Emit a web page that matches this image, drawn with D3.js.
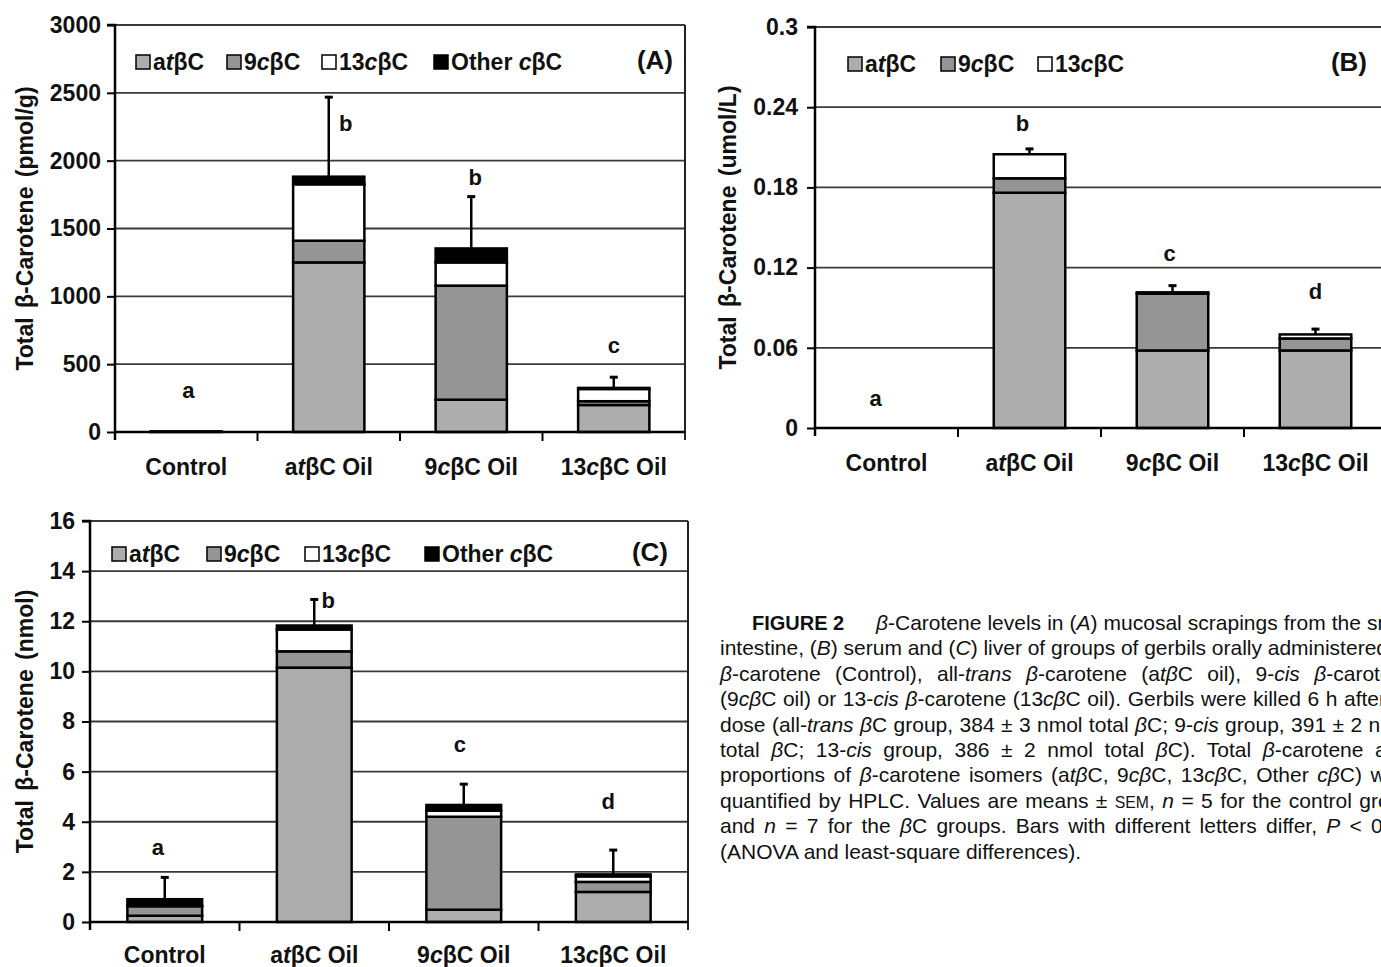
<!DOCTYPE html>
<html><head><meta charset="utf-8">
<script src="https://cdn.jsdelivr.net/npm/d3@7"></script>
<style>
body{margin:0;background:#fff}
svg{display:block}
text{font-family:"Liberation Sans",Arial,Helvetica,sans-serif}
</style>
</head><body>
<svg id="chart" width="1381" height="967"></svg>
<script>
// ---------------- DATA ----------------
const categories = ["Control", "atβC Oil", "9cβC Oil", "13cβC Oil"];
const isomers4 = ["atβC", "9cβC", "13cβC", "Other cβC"];
const isomers3 = ["atβC", "9cβC", "13cβC"];

// (A) mucosal scrapings, pmol/g
const A_at    = [5, 1250, 238, 199];
const A_9c    = [0, 160, 841, 28];
const A_13c   = [0, 416, 171, 90];
const A_other = [0, 56, 103, 8];
const A_sem   = [0, 586, 382, 79];
const A_letters = ["a", "b", "b", "c"];
const A_ticks = [0, 500, 1000, 1500, 2000, 2500, 3000];

// (B) serum, umol/L
const B_at  = [0, 0.176, 0.058, 0.058];
const B_9c  = [0, 0.0108, 0.0425, 0.009];
const B_13c = [0, 0.018, 0.001, 0.003];
const B_sem = [0, 0.004, 0.005, 0.004];
const B_letters = ["a", "b", "c", "d"];
const B_ticks = [0, 0.06, 0.12, 0.18, 0.24, 0.3];

// (C) liver, nmol
const C_at    = [0.25, 10.15, 0.49, 1.2];
const C_9c    = [0.38, 0.65, 3.71, 0.4];
const C_13c   = [0.02, 0.87, 0.24, 0.22];
const C_other = [0.26, 0.16, 0.23, 0.08];
const C_sem   = [0.87, 1.04, 0.83, 0.97];
const C_letters = ["a", "b", "c", "d"];
const C_ticks = [0, 2, 4, 6, 8, 10, 12, 14, 16];

const captionLines = [
  "_β_-Carotene levels in (_A_) mucosal scrapings from the small",
  "intestine, (_B_) serum and (_C_) liver of groups of gerbils orally administered",
  "_β_-carotene (Control), all-_trans_ _β_-carotene (a_tβ_C oil), 9-_cis_ _β_-carotene",
  "(9_cβ_C oil) or 13-_cis_ _β_-carotene (13_cβ_C oil). Gerbils were killed 6 h after",
  "dose (all-_trans_ _β_C group, 384 ± 3 nmol total _β_C; 9-_cis_ group, 391 ± 2 nmol",
  "total _β_C; 13-_cis_ group, 386 ± 2 nmol total _β_C). Total _β_-carotene and",
  "proportions of _β_-carotene isomers (a_tβ_C, 9_cβ_C, 13_cβ_C, Other _cβ_C) were",
  "quantified by HPLC. Values are means ± ^SEM^, _n_ = 5 for the control group",
  "and _n_ = 7 for the _β_C groups. Bars with different letters differ, _P_ < 0.05",
  "(ANOVA and least-square differences)."
];

// ---------------- STYLE / LAYOUT ----------------
const fills = ["#adadad", "#959595", "#ffffff", "#000000"];
const svg = d3.select("#chart");

function rich(sel, str) {
  const parts = str.split(/(t(?=β)|c(?=β))/);
  parts.forEach((p, i) => {
    if (!p) return;
    sel.append("tspan").text(p).attr("font-style", i % 2 === 1 ? "italic" : null);
  });
}

function drawPanel(p) {
  const g = svg.append("g");
  const x = d3.scaleBand().domain(p.categories).range([p.left, p.right]).paddingInner(0.5).paddingOuter(0.25);
  const y = d3.scaleLinear().domain([0, p.max]).range([p.bottom, p.top]);

  // gridlines
  g.selectAll("line.grid").data(p.ticks.filter(t => t > 0)).join("line")
    .attr("x1", p.left).attr("x2", p.right)
    .attr("y1", d => y(d)).attr("y2", d => y(d))
    .attr("stroke", "#3a3a3a").attr("stroke-width", 1.8);
  // right border
  g.append("line").attr("x1", p.right).attr("x2", p.right).attr("y1", y(p.max)).attr("y2", p.bottom + 8)
    .attr("stroke", "#222").attr("stroke-width", 2);

  // stacked bars
  const stack = d3.stack().keys(d3.range(p.series.length)).value((d, k) => p.series[k][d]);
  const layers = stack(d3.range(p.categories.length));
  layers.forEach((layer, k) => {
    g.selectAll(null).data(layer.filter(s => s[1] - s[0] > 0)).join("rect")
      .attr("x", s => x(p.categories[s.data]))
      .attr("width", x.bandwidth())
      .attr("y", s => y(s[1]))
      .attr("height", s => Math.max(0.5, y(s[0]) - y(s[1])))
      .attr("fill", fills[k])
      .attr("stroke", "#000").attr("stroke-width", p.barStroke);
  });

  // error bars
  const totals = d3.range(p.categories.length).map(i => d3.sum(p.series, s => s[i]));
  const eb = g.selectAll(null).data(d3.range(p.categories.length).filter(i => p.sem[i] > 0)).join("g");
  eb.append("line")
    .attr("x1", i => x(p.categories[i]) + x.bandwidth() / 2).attr("x2", i => x(p.categories[i]) + x.bandwidth() / 2)
    .attr("y1", i => y(totals[i])).attr("y2", i => y(totals[i] + p.sem[i]))
    .attr("stroke", "#000").attr("stroke-width", 2.5);
  eb.append("line")
    .attr("x1", i => x(p.categories[i]) + x.bandwidth() / 2 - 4).attr("x2", i => x(p.categories[i]) + x.bandwidth() / 2 + 4)
    .attr("y1", i => y(totals[i] + p.sem[i])).attr("y2", i => y(totals[i] + p.sem[i]))
    .attr("stroke", "#000").attr("stroke-width", 3);

  // y axis
  const yAxis = d3.axisLeft(y).tickValues(p.ticks).tickSize(8).tickFormat(p.fmt);
  const ya = g.append("g").attr("transform", `translate(${p.left},0)`).call(yAxis);
  ya.select(".domain").attr("d", `M-8,${p.top}H0V${p.bottom + 8}`).attr("stroke", "#000").attr("stroke-width", 2.5);
  ya.selectAll(".tick line").attr("stroke", "#000").attr("stroke-width", 2);
  ya.selectAll(".tick text").attr("x", -p.tickPad).attr("font-size", p.fs).attr("font-weight", "bold").attr("fill", "#111")
    .attr("font-family", '"Liberation Sans",Arial,sans-serif');

  // x axis
  const xa = g.append("g").attr("transform", `translate(0,${p.bottom})`);
  xa.append("line").attr("x1", p.left).attr("x2", p.right).attr("stroke", "#000").attr("stroke-width", 2.5);
  const step = x.step();
  const bounds = d3.range(1, p.categories.length).map(i => x(p.categories[i]) - (step - x.bandwidth()) / 2);
  xa.selectAll(null).data(bounds).join("line")
    .attr("x1", d => d).attr("x2", d => d).attr("y1", 0).attr("y2", 9)
    .attr("stroke", "#000").attr("stroke-width", 2);
  xa.selectAll(null).data(p.categories).join("text")
    .attr("x", d => x(d) + x.bandwidth() / 2).attr("y", p.catDy)
    .attr("text-anchor", "middle").attr("font-size", p.fs).attr("font-weight", "bold").attr("fill", "#111")
    .each(function (d) { rich(d3.select(this), d); });

  // y title
  g.append("text").attr("transform", `translate(${p.titleX},${(p.top + p.bottom) / 2}) rotate(-90)`)
    .attr("text-anchor", "middle").attr("font-size", p.fs).attr("font-weight", "bold").attr("fill", "#111")
    .attr("dy", "0.35em").attr("word-spacing", 3)
    .text(p.ytitle);

  // significance letters
  g.selectAll(null).data(p.letters).join("text")
    .attr("x", (d, i) => x(p.categories[i]) + x.bandwidth() / 2 + p.letterPos[i][0])
    .attr("y", (d, i) => y(p.letterPos[i][1]))
    .attr("dy", "0.35em").attr("text-anchor", "middle")
    .attr("font-size", p.fs - 1).attr("font-weight", "bold").attr("fill", "#111")
    .text(d => d);

  // legend
  const lg = g.append("g");
  p.keys.forEach((k, i) => {
    lg.append("rect").attr("x", p.legendX[i]).attr("y", p.legendY - 7).attr("width", 14).attr("height", 14)
      .attr("fill", fills[i]).attr("stroke", "#000").attr("stroke-width", 1.5);
    const t = lg.append("text").attr("x", p.legendX[i] + 17).attr("y", p.legendY).attr("dy", "0.36em")
      .attr("font-size", p.fs).attr("font-weight", "bold").attr("fill", "#111");
    rich(t, k);
  });
  g.append("text").attr("x", p.tagX).attr("y", p.legendY - 2).attr("dy", "0.36em").attr("text-anchor", "end")
    .attr("font-size", p.fs + 3).attr("font-weight", "bold").attr("fill", "#111").text(p.tag);
}

const fmtInt = d => d3.format("d")(d);
const fmtB = d => d === 0 ? "0" : d3.format(".2~f")(d);

drawPanel({
  categories, series: [A_at, A_9c, A_13c, A_other], sem: A_sem, letters: A_letters, keys: isomers4,
  ticks: A_ticks, fmt: fmtInt, max: 3000,
  left: 115, right: 685, top: 25, bottom: 432, fs: 23, tickPad: 14, catDy: 43, titleX: 25, barStroke: 2.5,
  ytitle: "Total β-Carotene (pmol/g)", tag: "(A)", tagX: 673, legendY: 62, legendX: [136, 227, 322, 434],
  letterPos: [[2, 309], [17, 2279], [4, 1875], [0, 640]]
});
drawPanel({
  categories, series: [B_at, B_9c, B_13c], sem: B_sem, letters: B_letters, keys: isomers3,
  ticks: B_ticks, fmt: fmtB, max: 0.3,
  left: 815, right: 1387, top: 27, bottom: 428, fs: 23, tickPad: 17, catDy: 43, titleX: 728, barStroke: 2.5,
  ytitle: "Total β-Carotene (umol/L)", tag: "(B)", tagX: 1367, legendY: 64, legendX: [848, 941, 1038],
  letterPos: [[-11, 0.0225], [-7, 0.228], [-3, 0.131], [0, 0.102]]
});
drawPanel({
  categories, series: [C_at, C_9c, C_13c, C_other], sem: C_sem, letters: C_letters, keys: isomers4,
  ticks: C_ticks, fmt: fmtInt, max: 16,
  left: 90, right: 688, top: 521, bottom: 922, fs: 23, tickPad: 15, catDy: 41, titleX: 25, barStroke: 2.5,
  ytitle: "Total β-Carotene (nmol)", tag: "(C)", tagX: 668, legendY: 554, legendX: [112, 207, 305, 425],
  letterPos: [[-7, 3.0], [14, 12.84], [-4, 7.08], [-5, 4.8]]
});

// ---------------- CAPTION ----------------
const capFs = 21;
const capX = 720, capY0 = 630, capStep = 25.4;
const capTargets = [1416, 1388, 1415, 1386, 1414, 1410, 1416, 1413, 1412, null];
const cap = svg.append("g").attr("font-size", capFs).attr("fill", "#111");
cap.append("text").attr("x", 752).attr("y", capY0).attr("font-weight", "bold").attr("font-size", 20).text("FIGURE 2");

function parseMarkup(t, str) {
  let italic = false, sc = false, buf = "";
  const flush = () => {
    if (!buf) return;
    const ts = t.append("tspan").text(sc ? buf.toUpperCase() : buf);
    if (italic) ts.attr("font-style", "italic");
    if (sc) ts.attr("font-size", capFs * 0.75);
    buf = "";
  };
  for (const ch of str) {
    if (ch === "_") { flush(); italic = !italic; }
    else if (ch === "^") { flush(); sc = !sc; }
    else buf += ch;
  }
  flush();
}
captionLines.forEach((line, i) => {
  const x0 = i === 0 ? 876 : capX;
  const t = cap.append("text").attr("x", x0).attr("y", capY0 + i * capStep);
  parseMarkup(t, line);
  if (capTargets[i]) {
    const nat = t.node().getComputedTextLength();
    const spaces = (line.match(/ /g) || []).length;
    if (spaces) t.attr("word-spacing", (capTargets[i] - x0 - nat) / spaces);
  }
});
</script>
</body></html>
